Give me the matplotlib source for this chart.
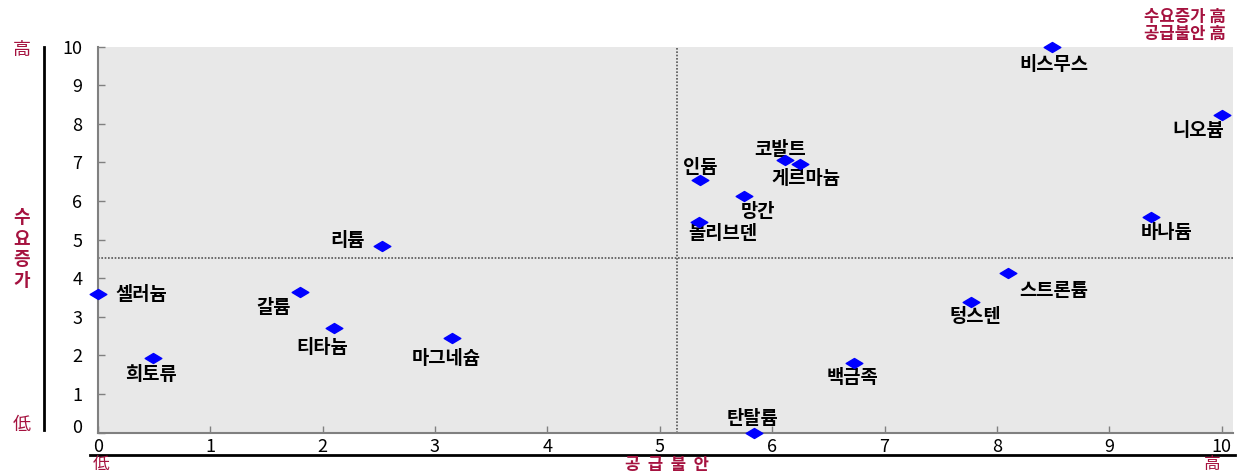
import matplotlib
matplotlib.use("Agg")
import matplotlib.pyplot as plt
from matplotlib.path import Path
from matplotlib.transforms import ScaledTranslation

plt.rcParams['font.family'] = ['Noto Sans CJK KR', 'DejaVu Sans']

# 광물별 공급불안(x) / 수요증가(y) 점수
minerals = ["셀러늄", "희토류", "갈륨", "티타늄", "리튬", "마그네슘",
            "인듐", "몰리브덴", "망간", "코발트", "게르마늄", "탄탈륨",
            "백금족", "텅스텐", "스트론튬", "비스무스", "니오븀", "바나듐"]
supply_risk = [0.0, 0.49, 1.8, 2.1, 2.53, 3.15,
               5.36, 5.35, 5.75, 6.11, 6.25, 5.84,
               6.73, 7.77, 8.1, 8.49, 10.0, 9.37]
demand_growth = [3.58, 1.94, 3.65, 2.71, 4.83, 2.45,
                 6.54, 5.46, 6.12, 7.06, 6.95, 0.0,
                 1.8, 3.39, 4.14, 10.0, 8.23, 5.59]

supply_cut = 5.15
demand_cut = 4.52

x_ticks = list(range(0, 11))
y_ticks = list(range(0, 11))

# label offsets in points (dx, dy, ha)
label_offsets = {
    "셀러늄": (12.5, 0, "left"), "희토류": (-1.5, -12, "center"),
    "갈륨": (-19, -11, "center"), "티타늄": (-8, -14, "center"),
    "리튬": (-25, 4, "center"), "마그네슘": (-4, -15, "center"),
    "인듐": (0, 9, "center"), "몰리브덴": (17, -8.5, "center"),
    "망간": (10, -10.5, "center"), "코발트": (-3, 8, "center"),
    "게르마늄": (4, -10.5, "center"), "탄탈륨": (-1, 10, "center"),
    "백금족": (-1.5, -10, "center"), "텅스텐": (3, -10.5, "center"),
    "스트론튬": (32.5, -13, "center"), "비스무스": (1, -12.5, "center"),
    "니오븀": (-17, -11, "center"), "바나듐": (11.5, -11.5, "center"),
}

RED = "#A5123F"
GRAY = "#808080"

fig = plt.figure(figsize=(12.42, 4.74), dpi=100)
ax = fig.add_axes([0.0787, 0.0873, 0.9141, 0.8142])
ax.set_facecolor("#E8E8E8")
ax.set_xlim(0, 10.1)
ax.set_ylim(0, 10)

for s in ["top", "right"]:
    ax.spines[s].set_visible(False)
for s in ["left", "bottom"]:
    ax.spines[s].set_color(GRAY)
    ax.spines[s].set_linewidth(1.5)

ax.set_xticks(x_ticks)
ax.set_yticks(y_ticks)
ax.tick_params(axis="both", direction="in", length=5, color=GRAY, width=1,
               labelsize=13)
ax.tick_params(axis="y", pad=11)
ax.tick_params(axis="x", pad=4)
# Excel nudges the zero label up
ax.get_yticklabels()[0].set_transform(
    ax.get_yticklabels()[0].get_transform() + ScaledTranslation(0, 5 / 72, fig.dpi_scale_trans))

ax.axvline(supply_cut, color="#555555", linestyle=(0, (1, 1)), linewidth=1.2)
ax.axhline(demand_cut, color="#555555", linestyle=(0, (1, 1)), linewidth=1.2)

diamond = Path([(-1, 0), (0, 0.6), (1, 0), (0, -0.6), (-1, 0)],
               [Path.MOVETO, Path.LINETO, Path.LINETO, Path.LINETO, Path.CLOSEPOLY])
ax.plot(supply_risk, demand_growth, linestyle="none", marker=diamond,
        markersize=12, color="#0000FF", markeredgecolor="#0000FF",
        clip_on=False, zorder=5)

for name, x, y in zip(minerals, supply_risk, demand_growth):
    dx, dy, ha = label_offsets[name]
    ax.annotate(name, (x, y), xytext=(dx, dy), textcoords="offset points",
                ha=ha, va="center", fontsize=13.5, fontweight="bold",
                color="black", annotation_clip=False)

# side decorations
fig.add_artist(plt.Line2D([44 / 1242, 44 / 1242], [1 - 47 / 474, 1 - 430 / 474],
                          color="black", linewidth=2))
fig.text(22 / 1242, 1 - 50 / 474, "高", color=RED, fontsize=13,
         ha="center", va="center")
fig.text(22 / 1242, 1 - 425 / 474, "低", color=RED, fontsize=13,
         ha="center", va="center")
fig.text(22 / 1242, 1 - 249 / 474, "수\n요\n증\n가", color=RED, fontsize=13,
         fontweight="bold", ha="center", va="center", linespacing=1.15)

fig.add_artist(plt.Line2D([90 / 1242, 1235 / 1242], [1 - 455 / 474, 1 - 455 / 474],
                          color="black", linewidth=2))
fig.text(101 / 1242, 1 - 465 / 474, "低", color=RED, fontsize=12,
         ha="center", va="center")
fig.text(667 / 1242, 1 - 465 / 474, "공  급  불  안", color=RED, fontsize=12,
         fontweight="bold", ha="center", va="center")
fig.text(1212 / 1242, 1 - 465 / 474, "高", color=RED, fontsize=12,
         ha="center", va="center")

fig.text(1226 / 1242, 1 - 17 / 474, "수요증가 高", color=RED, fontsize=12,
         fontweight="bold", ha="right", va="center")
fig.text(1226 / 1242, 1 - 34 / 474, "공급불안 高", color=RED, fontsize=12,
         fontweight="bold", ha="right", va="center")

fig.savefig("out.png", dpi=100)
